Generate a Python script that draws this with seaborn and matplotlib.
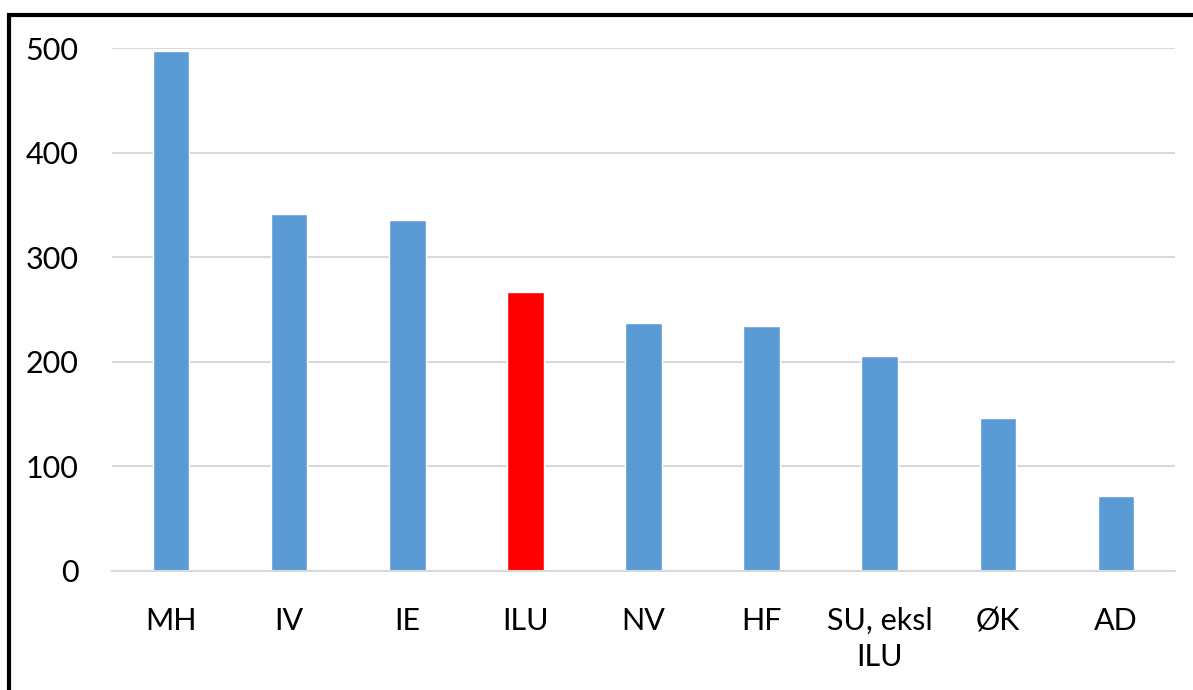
import matplotlib
matplotlib.use("Agg")
import matplotlib.pyplot as plt
import pandas as pd
import seaborn as sns
from matplotlib.patches import Rectangle

categories = ["MH", "IV", "IE", "ILU", "NV", "HF", "SU, eksl\nILU", "ØK", "AD"]
values = [497, 341, 336, 267, 237, 234, 206, 146, 72]
highlight = "ILU"

blue = "#5b9bd5"
red = "#ff0000"

df = pd.DataFrame({"unit": categories, "value": values})
palette = {c: (red if c == highlight else blue) for c in categories}

sns.set_theme(style="white")
plt.rcParams["font.family"] = ["Lato", "DejaVu Sans"]

fig = plt.figure(figsize=(11.93, 6.90), dpi=100)
ax = fig.add_axes([112 / 1193, 1 - 571 / 690, (1175 - 112) / 1193, (571 - 48) / 690])

sns.barplot(data=df, x="unit", y="value", hue="unit", palette=palette,
            width=0.31, legend=False, ax=ax, saturation=1)

ax.set_ylim(0, 500)
ax.set_xlim(-0.5, len(categories) - 0.5)
ax.set_yticks([0, 100, 200, 300, 400, 500])
ax.yaxis.grid(True, color="#d9d9d9", linewidth=1.5)
ax.set_axisbelow(True)
for side in ["top", "right", "left"]:
    ax.spines[side].set_visible(False)
ax.spines["bottom"].set_color("#d9d9d9")
ax.spines["bottom"].set_linewidth(1.5)
ax.set_xlabel("")
ax.set_ylabel("")
ax.tick_params(axis="y", length=0, pad=24, labelsize=22, colors="black")
ax.tick_params(axis="x", length=0, pad=26, labelsize=22, colors="black")
for lbl in ax.get_xticklabels():
    lbl.set_linespacing(1.35)

# outer black frame (partially off canvas)
fig.patches.append(Rectangle((9 / 1193, -0.1), 1.2, 1 - 14.5 / 690 + 0.1,
                             transform=fig.transFigure, fill=False,
                             edgecolor="black", linewidth=3, clip_on=False))

fig.savefig("out.png", dpi=100)
